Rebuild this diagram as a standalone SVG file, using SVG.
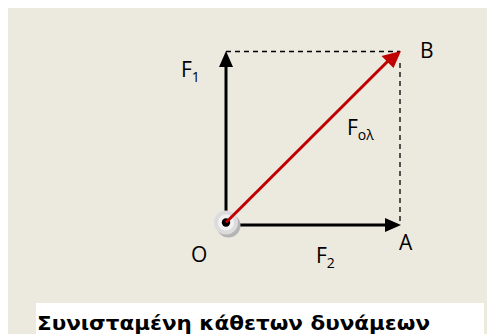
<svg xmlns="http://www.w3.org/2000/svg" width="487" height="334" viewBox="0 0 487 334">
<defs>
<style>
.lbl{font-family:"Open Sans","Noto Sans","Liberation Sans",sans-serif;font-size:21px;fill:#000}
.sub{font-size:14px}
.dash{stroke:#000;stroke-width:1.3;stroke-dasharray:5,4;fill:none}
.vec{stroke:#000;stroke-width:3;fill:none}
.cap{font-family:"DejaVu Sans","Liberation Sans",sans-serif;font-weight:bold;font-size:20px;fill:#000}
</style>
<marker id="ah" markerWidth="10" markerHeight="10" refX="10" refY="5" orient="auto" markerUnits="userSpaceOnUse" viewBox="0 0 10 10">
<path d="M0,0 L10,5 L0,10 z" fill="#000"/>
</marker>
</defs>
<rect x="0" y="0" width="487" height="334" fill="#fff"/>
<rect x="8" y="8" width="479" height="326" fill="#ECE9DF"/>
<rect x="36" y="303" width="448" height="31" fill="#fff"/>
<g id="connectors">
<path class="dash" d="M226,51.5 H400 M400,63 V222"/>
<line class="vec" x1="226" y1="222" x2="226" y2="66" />
<path d="M219,67 L226,51 L233,67 z" fill="#000"/>
<line class="vec" x1="233" y1="225" x2="386" y2="225"/>
<path d="M385,218 L401,225 L385,232 z" fill="#000"/>
</g>
<g id="node-O">
<circle cx="228.5" cy="225.5" r="12" fill="#B5B5B5"/>
<circle cx="226" cy="222.5" r="12" fill="#DCDCDC"/>
<circle cx="226" cy="222.5" r="8" fill="#F2F2F2"/>
<circle cx="226" cy="222.5" r="4.2" fill="#000"/>
<text class="lbl" x="191" y="262">O</text>
</g>
<g id="resultant">
<line x1="226" y1="222.5" x2="389" y2="60" stroke="#C00000" stroke-width="3"/>
<path d="M381.5,56 L401,51 L393.5,68 z" fill="#C00000"/>
</g>
<g id="label-F1"><text class="lbl" x="181" y="77">F<tspan class="sub" dy="5">1</tspan></text></g>
<g id="label-B"><text class="lbl" x="420" y="58">B</text></g>
<g id="label-Fol"><text class="lbl" x="347" y="135">F<tspan class="sub" dy="5">ολ</tspan></text></g>
<g id="label-A"><text class="lbl" x="399" y="250">A</text></g>
<g id="label-F2"><text class="lbl" x="316" y="263">F<tspan class="sub" dy="5">2</tspan></text></g>
<text class="cap" x="37" y="330" textLength="393" lengthAdjust="spacingAndGlyphs">Συνισταμένη κάθετων δυνάμεων</text>
</svg>
